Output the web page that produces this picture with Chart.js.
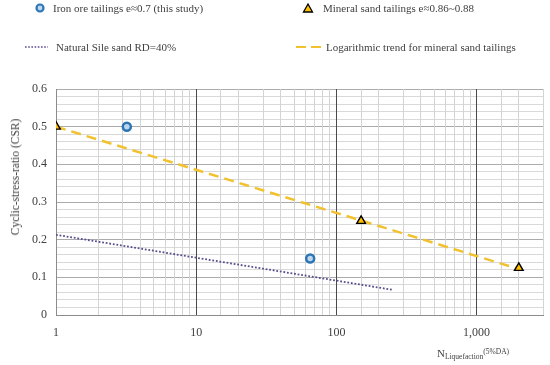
<!DOCTYPE html>
<html>
<head>
<meta charset="utf-8">
<script src="https://cdn.jsdelivr.net/npm/chart.js@4.4.1/dist/chart.umd.min.js"></script>
<style>
    body { margin: 0; background: #ffffff; }
    #wrap { position: relative; width: 550px; height: 365px; font-family: "Liberation Serif", serif; color: #404040; }
    #csrChart { position: absolute; left: 0; top: 0; }
    .legend-item { position: absolute; font-size: 11px; white-space: nowrap; display: flex; align-items: center; }
    .legend-item svg { margin-right: 5px; }
    #yTitle { position: absolute; left: 15px; top: 177px; font-size: 11.5px; white-space: nowrap; transform: translate(-50%, -50%) rotate(-90deg); }
    #xTitle { position: absolute; left: 437px; top: 346px; font-size: 11px; white-space: nowrap; line-height: 14px; }
    #xTitle .sub { font-size: 7.5px; position: relative; top: 2px; }
    #xTitle .sup { font-size: 7.5px; position: relative; top: -3px; }
</style>
</head>
<body>
<div id="wrap">
    <canvas id="csrChart" width="550" height="365"></canvas>

    <div class="legend-item" style="left:34px; top:2px;">
        <svg width="14" height="12"><circle cx="6" cy="6" r="3.5" fill="#bdd7ee" stroke="#2e75b6" stroke-width="2.2"/></svg>
        <span>Iron ore tailings e≈0.7 (this study)</span>
    </div>
    <div class="legend-item" style="left:302px; top:2px;">
        <svg width="16" height="12"><polygon points="6,2 10.5,10 1.5,10" fill="#ffc000" stroke="#000" stroke-width="1.3"/></svg>
        <span>Mineral sand tailings e≈0.86~0.88</span>
    </div>
    <div class="legend-item" style="left:24px; top:41px;">
        <svg width="27" height="12"><line x1="1" y1="6" x2="24" y2="6" stroke="#5b4c8c" stroke-width="1.6" stroke-dasharray="1.6,1.6"/></svg>
        <span>Natural Sile sand RD=40%</span>
    </div>
    <div class="legend-item" style="left:296px; top:41px;">
        <svg width="28" height="12"><line x1="0" y1="6" x2="27" y2="6" stroke="#f2c12e" stroke-width="2.2" stroke-dasharray="10,5"/></svg>
        <span style="margin-left:-3px">Logarithmic trend for mineral sand tailings</span>
    </div>

    <div id="yTitle">Cyclic-stress-ratio (CSR)</div>
    <div id="xTitle">N<span class="sub">Liquefaction</span><span class="sup">(5%DA)</span></div>
</div>

<script>
// iron ore tailings (this study)
const ironN = [3.2, 65];
const ironCSR = [0.5, 0.15];

// mineral sand tailings
const mineralN = [1, 150, 2000];
const mineralCSR = [0.5, 0.25, 0.125];

// natural Sile sand RD=40%
const sileN = [1, 250];
const sileCSR = [0.213, 0.067];

// logarithmic trend for mineral sand tailings
const trendN = [1, 2000];
const trendCSR = [0.5, 0.122];

const xTickLabels = [1, 10, 100, 1000];
const yTickLabels = [0, 0.1, 0.2, 0.3, 0.4, 0.5, 0.6];

function toPoints(xs, ys) {
    return xs.map((x, i) => ({ x: x, y: ys[i] }));
}

function isDecade(value) {
    const p = Math.log10(value);
    return Math.abs(p - Math.round(p)) < 1e-9;
}

const chartContext = document.getElementById("csrChart");

const csrChart = new Chart(chartContext, {
    type: "scatter",
    data: {
        datasets: [
            {
                label: "Iron ore tailings e≈0.7 (this study)",
                data: toPoints(ironN, ironCSR),
                pointStyle: "circle",
                pointRadius: 4,
                backgroundColor: "#bdd7ee",
                borderColor: "#2e75b6",
                borderWidth: 2.5,
                order: 1,
            },
            {
                label: "Mineral sand tailings e≈0.86~0.88",
                data: toPoints(mineralN, mineralCSR),
                pointStyle: "triangle",
                pointRadius: 5,
                backgroundColor: "#ffc000",
                borderColor: "#000000",
                borderWidth: 1.4,
                order: 1,
            },
            {
                label: "Natural Sile sand RD=40%",
                data: toPoints(sileN, sileCSR),
                showLine: true,
                pointRadius: 0,
                borderColor: "#5b4c8c",
                borderWidth: 1.8,
                borderDash: [1.8, 1.8],
                order: 2,
            },
            {
                label: "Logarithmic trend for mineral sand tailings",
                data: toPoints(trendN, trendCSR),
                showLine: true,
                pointRadius: 0,
                borderColor: "#f2c12e",
                borderWidth: 2.5,
                borderDash: [10, 6],
                order: 2,
            },
        ],
    },
    options: {
        responsive: false,
        animation: false,
        layout: { padding: { top: 89, right: 3, left: 0, bottom: 0 } },
        plugins: {
            legend: { display: false },
            tooltip: { enabled: false },
        },
        scales: {
            x: {
                type: "logarithmic",
                min: 1,
                max: 3000,
                border: { color: "#8c8c8c" },
                grid: {
                    color: (ctx) => (ctx.tick && isDecade(ctx.tick.value) ? "#4a4a4a" : "#d4d4d4"),
                    drawTicks: false,
                },
                ticks: {
                    autoSkip: false,
                    maxRotation: 0,
                    padding: 11,
                    color: "#404040",
                    font: { family: "Liberation Serif", size: 12 },
                    callback: (value) => (xTickLabels.includes(value) ? value.toLocaleString("en-US") : ""),
                },
                afterFit: (scale) => {
                    scale.height = 50;
                    scale.paddingLeft = 0;
                    scale.paddingRight = 0;
                },
            },
            y: {
                min: 0,
                max: 0.6,
                border: { color: "#8c8c8c" },
                grid: {
                    z: -2,
                    color: (ctx) => {
                        const v = Math.round(ctx.tick.value * 100);
                        return v % 10 === 0 ? "#ababab" : "#d9d9d9";
                    },
                    drawTicks: false,
                },
                ticks: {
                    stepSize: 0.02,
                    autoSkip: false,
                    padding: 9,
                    color: "#404040",
                    font: { family: "Liberation Serif", size: 12 },
                    callback: (value) => {
                        const match = yTickLabels.find((t) => Math.abs(t - value) < 1e-6);
                        return match === undefined ? "" : String(match);
                    },
                },
                afterFit: (scale) => {
                    scale.width = 56;
                    scale.paddingTop = 0;
                    scale.paddingBottom = 0;
                },
            },
        },
    },
});
</script>
</body>
</html>
